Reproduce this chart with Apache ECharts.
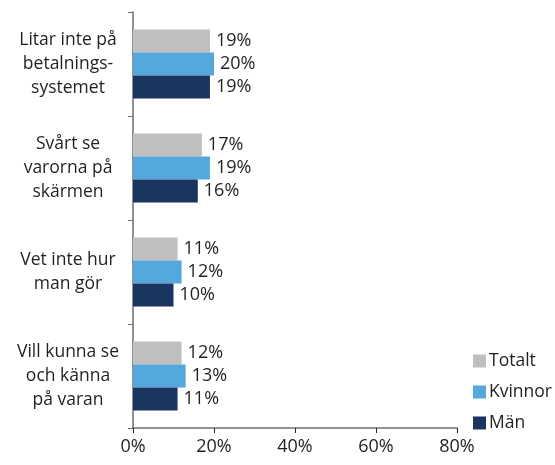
<!DOCTYPE html>
<html>
<head>
    <meta charset="utf-8">
    <title>Hinder vid e-handel</title>
    <script src="https://cdn.jsdelivr.net/npm/echarts@6/dist/echarts.min.js"></script>
    <style>
        html, body { margin: 0; padding: 0; background: #fff; }
        #main { width: 555px; height: 465px; }
    </style>
</head>
<body>
<div id="main"></div>
<script>
    // kategorier uppifrån och ned
    var categories = [
        'Litar inte på\nbetalnings-\nsystemet',
        'Svårt se\nvarorna på\nskärmen',
        'Vet inte hur\nman gör',
        'Vill kunna se\noch känna\npå varan'
    ];
    var seriesNames = ['Totalt', 'Kvinnor', 'Män'];
    var totalt = [19, 17, 11, 12];
    var kvinnor = [20, 19, 12, 13];
    var man = [19, 16, 10, 11];
    var xTicks = [0, 20, 40, 60, 80];

    var colors = ['#bfbfbf', '#55a8dc', '#1b3561'];
    var font = 'Open Sans';
    var textColor = '#231f20';

    function makeSeries(name, data, color) {
        return {
            name: name,
            type: 'bar',
            data: data,
            barWidth: 23,
            barGap: '0%',
            itemStyle: { color: color },
            label: {
                show: true,
                position: 'right',
                distance: 6,
                formatter: '{c}%',
                fontFamily: font,
                fontSize: 18,
                color: textColor
            }
        };
    }

    var chart = echarts.init(document.getElementById('main'));
    var option = {
        animation: false,
        grid: { left: 133, right: 98, top: 12, bottom: 37, containLabel: false },
        legend: {
            orient: 'vertical',
            left: 473,
            top: 352,
            padding: 0,
            itemWidth: 13,
            itemHeight: 13,
            itemGap: 13,
            icon: 'rect',
            data: seriesNames,
            textStyle: { fontFamily: font, fontSize: 17.5, color: textColor, padding: [0, 0, 0, -2] }
        },
        xAxis: {
            type: 'value',
            min: xTicks[0],
            max: xTicks[xTicks.length - 1],
            interval: 20,
            splitLine: { show: false },
            axisLine: { show: true, lineStyle: { color: '#6e6e6e', width: 1.5 } },
            axisTick: { show: true, length: 5, lineStyle: { color: '#222' } },
            axisLabel: {
                formatter: '{value}%',
                fontFamily: font,
                fontSize: 18,
                color: textColor,
                margin: 10
            }
        },
        yAxis: {
            type: 'category',
            inverse: true,
            data: categories,
            axisLine: { show: true, lineStyle: { color: '#6e6e6e', width: 1.5 } },
            axisTick: { show: true, length: 5, lineStyle: { color: '#6e6e6e' } },
            axisLabel: {
                fontFamily: font,
                fontSize: 17.5,
                lineHeight: 24,
                color: textColor,
                align: 'center',
                margin: 65
            }
        },
        series: [
            makeSeries(seriesNames[0], totalt, colors[0]),
            makeSeries(seriesNames[1], kvinnor, colors[1]),
            makeSeries(seriesNames[2], man, colors[2])
        ]
    };
    chart.setOption(option);
</script>
</body>
</html>
